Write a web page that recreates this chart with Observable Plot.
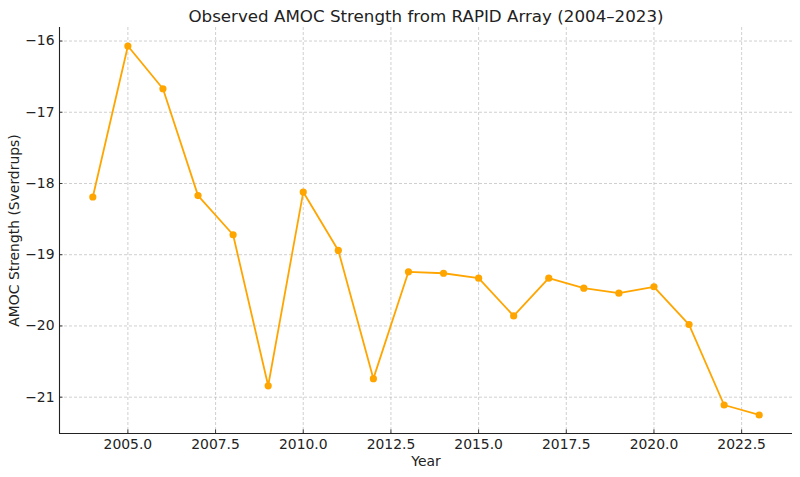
<!DOCTYPE html>
<html>
<head>
<meta charset="utf-8">
<script src="https://cdn.jsdelivr.net/npm/d3@7"></script>
<script src="https://cdn.jsdelivr.net/npm/@observablehq/plot@0.6"></script>
<style>
  html, body { margin: 0; padding: 0; background: #fff; }
  svg { display: block; }
</style>
</head>
<body>
<div id="chart"></div>
<script>
const years = [2004, 2005, 2006, 2007, 2008, 2009, 2010, 2011, 2012, 2013, 2014, 2015, 2016, 2017, 2018, 2019, 2020, 2021, 2022, 2023];
const amoc = [-18.19, -16.07, -16.67, -18.17, -18.72, -20.84, -18.12, -18.94, -20.74, -19.24, -19.26, -19.33, -19.86, -19.33, -19.47, -19.54, -19.45, -19.98, -21.11, -21.25];
const xTicks = [2005, 2007.5, 2010, 2012.5, 2015, 2017.5, 2020, 2022.5];
const yTicks = [-16, -17, -18, -19, -20, -21];
const titleText = "Observed AMOC Strength from RAPID Array (2004–2023)";
const xLabel = "Year";
const yLabel = "AMOC Strength (Sverdrups)";

const data = years.map((y, i) => ({year: y, value: amoc[i]}));
const xDomain = [2003.05, 2023.95];
const yDomain = [-21.51, -15.81];
const minus = s => String(s).replace("-", "\u2212");
const font = "DejaVu Sans, sans-serif";
const orange = "#FFA500";

const chart = Plot.plot({
  width: 800,
  height: 477,
  marginTop: 27,
  marginBottom: 44,
  marginLeft: 59,
  marginRight: 8,
  style: {fontFamily: font, fontSize: "13.9px", color: "#222", background: "#fff"},
  x: {domain: xDomain},
  y: {domain: yDomain},
  marks: [
    Plot.gridX(xTicks, {stroke: "#b0b0b0", strokeOpacity: 0.75, strokeWidth: 0.8, strokeDasharray: "3,2"}),
    Plot.gridY(yTicks, {stroke: "#b0b0b0", strokeOpacity: 0.75, strokeWidth: 0.8, strokeDasharray: "3,2"}),
    Plot.axisX(xTicks, {tickSize: 0, tickPadding: 6, tickFormat: d => d3.format(".1f")(d), fontSize: "13.9px", fill: "#222", label: null}),
    Plot.axisY(yTicks, {tickSize: 0, tickPadding: 5, tickFormat: d => minus(d), fontSize: "13.9px", fill: "#222", label: null}),
    Plot.ruleY(yTicks, {y: d => d, x1: xDomain[0], x2: xDomain[0] + 0.1, stroke: "#222", strokeWidth: 0.9}),
    Plot.ruleX(xTicks, {x: d => d, y1: yDomain[0], y2: yDomain[0] + 0.05, stroke: "#222", strokeWidth: 0.9}),
    Plot.ruleX([xDomain[0]], {stroke: "#222", strokeWidth: 1.1}),
    Plot.ruleY([yDomain[0]], {stroke: "#222", strokeWidth: 1.1}),
    Plot.line(data, {x: "year", y: "value", stroke: orange, strokeWidth: 1.8}),
    Plot.dot(data, {x: "year", y: "value", fill: orange, r: 3.6}),
    Plot.text([titleText], {frameAnchor: "top", dy: -11, fontSize: "16.7px", fill: "#222", lineAnchor: "middle"}),
    Plot.text([xLabel], {frameAnchor: "bottom", dy: 28, fontSize: "13.9px", fill: "#222", lineAnchor: "middle"}),
    Plot.text([yLabel], {frameAnchor: "left", dx: -45, rotate: -90, textAnchor: "middle", fontSize: "13.9px", fill: "#222", lineAnchor: "middle"})
  ]
});
document.getElementById("chart").appendChild(chart);
</script>
</body>
</html>
